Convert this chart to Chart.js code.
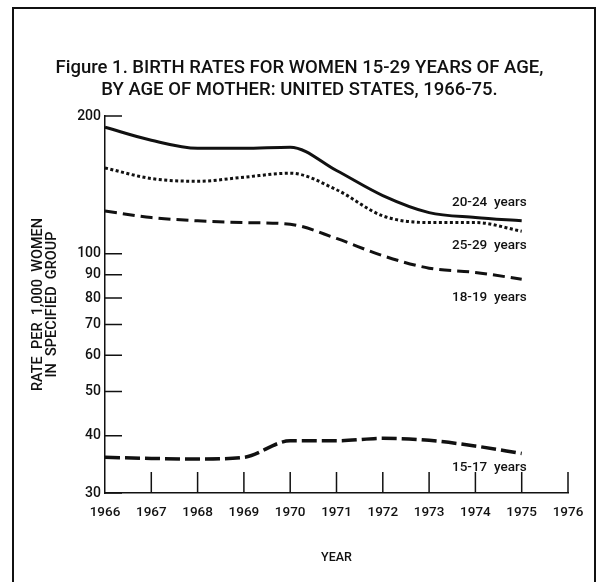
<!DOCTYPE html>
<html>
<head>
<meta charset="utf-8">
<script src="https://cdn.jsdelivr.net/npm/chart.js@4.4.1/dist/chart.umd.min.js"></script>
<style>
  html, body { margin: 0; padding: 0; background: #fff; }
  #wrap { width: 599px; height: 582px; position: relative; }
</style>
</head>
<body>
<div id="wrap"><canvas id="myChart"></canvas></div>
<script>
// 年（カテゴリ）
const years = ["1966", "1967", "1968", "1969", "1970", "1971", "1972", "1973", "1974", "1975", "1976"];

// 出生率（女性1,000人あたり）: 図から読み取り
const rate20to24 = [189, 177, 170, 170, 171, 152, 134, 123, 120, 118];
const rate25to29 = [154, 146, 144, 147, 150, 138, 121, 117, 117, 112];
const rate18to19 = [124, 120, 118, 117, 116, 108, 99, 93, 91, 88];
const rate15to17 = [35.9, 35.7, 35.6, 35.9, 39.0, 39.0, 39.5, 39.1, 38.0, 36.6];

// 縦軸の目盛り（対数）
const yTickValues = [30, 40, 50, 60, 70, 80, 90, 100, 200];

const INK = "#111";
const FONT = "Roboto, 'Liberation Sans', Arial, sans-serif";

/**
 * 外枠を描く
 */
const framePlugin = {
  id: "frame",
  beforeDraw(chart) {
    const { ctx } = chart;
    ctx.save();
    ctx.fillStyle = "#fff";
    ctx.fillRect(0, 0, chart.width, chart.height);
    ctx.strokeStyle = INK;
    ctx.lineWidth = 2;
    ctx.strokeRect(13, 8, 582, 600);
    ctx.restore();
  },
};

/**
 * 内向きの目盛り線
 */
const innerTicksPlugin = {
  id: "innerTicks",
  afterDraw(chart) {
    const { ctx, chartArea, scales } = chart;
    ctx.save();
    ctx.strokeStyle = INK;
    ctx.lineWidth = 1.5;
    ctx.beginPath();
    yTickValues.forEach((v) => {
      const py = scales.y.getPixelForValue(v);
      ctx.moveTo(chartArea.left, py);
      ctx.lineTo(chartArea.left + 17, py);
    });
    years.forEach((_, i) => {
      if (i === 0) return;
      const px = scales.x.getPixelForValue(i);
      ctx.moveTo(px, chartArea.bottom);
      ctx.lineTo(px, chartArea.bottom - 21);
    });
    ctx.stroke();
    ctx.restore();
  },
};

/**
 * 線の右端に系列名を書く
 */
const seriesLabelPlugin = {
  id: "seriesLabels",
  afterDatasetsDraw(chart) {
    const { ctx } = chart;
    ctx.save();
    ctx.fillStyle = INK;
    ctx.font = `500 13.5px ${FONT}`;
    ctx.textAlign = "right";
    ctx.textBaseline = "middle";
    chart.data.datasets.forEach((ds, i) => {
      const meta = chart.getDatasetMeta(i);
      const last = meta.data[meta.data.length - 1];
      ctx.fillText(ds.label, last.x + 5, last.y + ds.labelDy);
    });
    ctx.restore();
  },
};

const lineStyle = (dash, width) => ({
  borderColor: INK,
  borderWidth: width,
  borderDash: dash,
  pointRadius: 0,
  fill: false,
  cubicInterpolationMode: "monotone",
});

const chartConfig = {
  type: "line",
  data: {
    labels: years,
    datasets: [
      { label: "20-24  years", data: rate20to24, labelDy: -18, ...lineStyle([], 3) },
      { label: "25-29  years", data: rate25to29, labelDy: 14, ...lineStyle([3, 2.5], 3) },
      { label: "18-19  years", data: rate18to19, labelDy: 18, ...lineStyle([12, 6], 3) },
      { label: "15-17  years", data: rate15to17, labelDy: 14, ...lineStyle([15, 5], 3.5) },
    ],
  },
  options: {
    responsive: true,
    maintainAspectRatio: false,
    animation: false,
    layout: {
      padding: { left: 31, right: 31, top: 0, bottom: 0 },
    },
    plugins: {
      legend: { display: false },
      tooltip: { enabled: false },
      title: {
        display: true,
        text: [
          "Figure 1. BIRTH RATES FOR WOMEN 15-29 YEARS OF AGE,",
          "BY AGE OF MOTHER: UNITED STATES, 1966-75.",
        ],
        color: INK,
        font: { family: FONT, size: 18.5, weight: "500", lineHeight: "22px" },
        padding: { top: 57, bottom: 15 },
      },
    },
    scales: {
      x: {
        type: "category",
        offset: false,
        grid: { display: false, drawTicks: false },
        border: { display: true, color: INK, width: 1.5 },
        ticks: {
          color: INK,
          padding: 12,
          autoSkip: false,
          maxRotation: 0,
          font: { family: FONT, size: 13.5, weight: "500" },
        },
        title: {
          display: true,
          text: "YEAR",
          color: INK,
          font: { family: FONT, size: 12.5, weight: "500" },
          padding: { top: 0, bottom: 17 },
        },
        afterFit: (s) => { s.height = 89; },
      },
      y: {
        type: "logarithmic",
        min: 30,
        max: 200,
        grid: { display: false, drawTicks: false },
        border: { display: true, color: INK, width: 1.5 },
        afterBuildTicks: (s) => { s.ticks = yTickValues.map((v) => ({ value: v })); },
        ticks: {
          color: INK,
          padding: 4,
          autoSkip: false,
          font: { family: FONT, size: 14, weight: "500" },
          callback: (v) => String(v),
        },
        title: {
          display: true,
          text: ["RATE  PER  1,000  WOMEN", "IN  SPECIFIED  GROUP"],
          color: INK,
          font: { family: FONT, size: 14.5, weight: "500", lineHeight: "14px" },
          padding: { top: 0, bottom: 0 },
        },
        afterFit: (s) => { s.width = 74; },
      },
    },
  },
  plugins: [framePlugin, innerTicksPlugin, seriesLabelPlugin],
};

const initChart = () => {
  const canvas = document.getElementById("myChart");
  if (!canvas) return;
  new Chart(canvas, chartConfig);
};

initChart();
</script>
</body>
</html>
